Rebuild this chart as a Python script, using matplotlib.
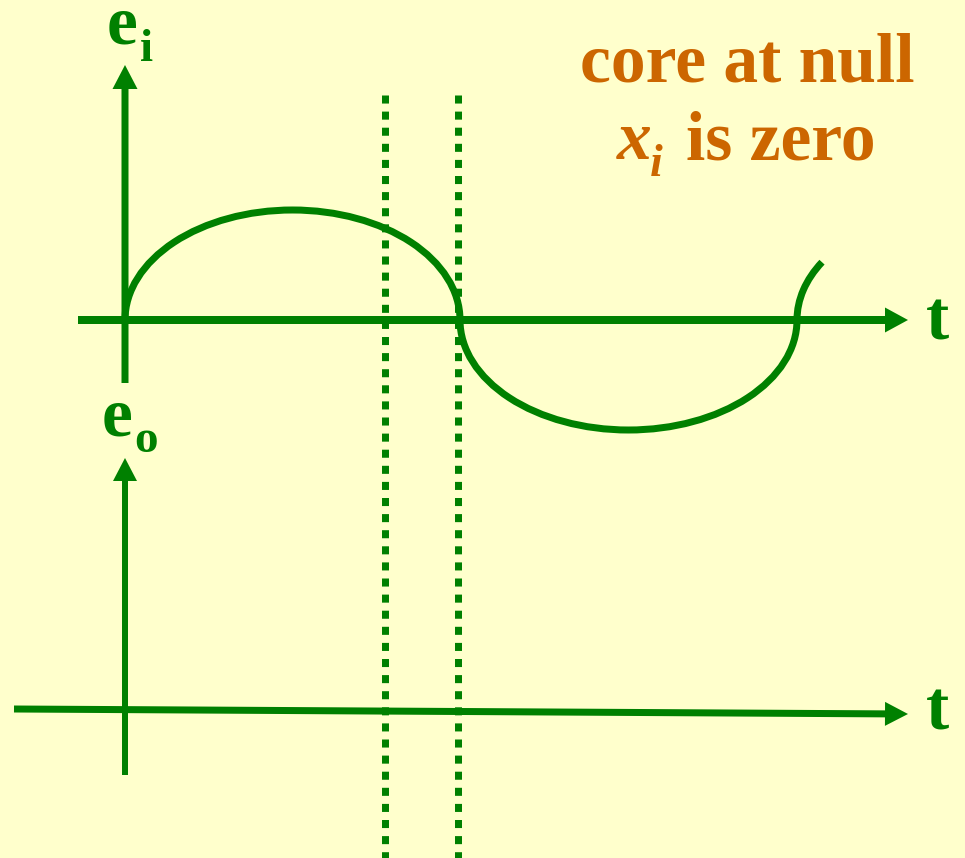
import numpy as np
import matplotlib.pyplot as plt
from matplotlib.patches import Arc

# canvas size in pixels, everything below is in pixel units (y grows downward)
W, H = 965, 858

# input signal e_i : zero crossings and amplitude of the half waves
crossings = [125, 460, 797]
amplitude = 110
end_x = 822                 # where the last partial wave stops
ei_axis_y = 320

# output e_o axis (slightly tilted in the original)
eo_axis_start = (14, 709)
eo_axis_end = (908, 714)

# dotted markers
dotted_x = [385, 458]
dotted_top = 95

green = '#008000'
orange = '#CC6600'
bg = '#FFFFCC'
serif = ['Liberation Serif', 'DejaVu Serif']

plt.rcParams['mathtext.fontset'] = 'custom'
plt.rcParams['mathtext.bf'] = 'Liberation Serif:bold'
plt.rcParams['mathtext.rm'] = 'Liberation Serif'

fig = plt.figure(figsize=(W / 100, H / 100), dpi=100, facecolor=bg)
ax = fig.add_axes([0, 0, 1, 1])
ax.set_xlim(0, W)
ax.set_ylim(H, 0)
ax.set_facecolor(bg)
ax.axis('off')

lw = 7 * 72 / 100  # 7 px

# e_i axes
ax.arrow(78, ei_axis_y, 830, 0, width=8, head_width=25, head_length=23,
         length_includes_head=True, color=green, lw=0)
ax.arrow(125, 383, 0, 65 - 383, width=7, head_width=25, head_length=24,
         length_includes_head=True, color=green, lw=0)

# e_i curve: half waves drawn as elliptical arcs
for i in range(len(crossings) - 1):
    x0, x1 = crossings[i], crossings[i + 1]
    cx = (x0 + x1) / 2
    w = x1 - x0
    if i % 2 == 0:
        t1, t2 = 180, 360
    else:
        t1, t2 = 0, 180
    ax.add_patch(Arc((cx, ei_axis_y), w, 2 * amplitude, theta1=t1, theta2=t2,
                     color=green, lw=lw))
# last partial half wave (going up from the last crossing)
half = (crossings[1] - crossings[0]) / 2
cx = crossings[-1] + half
u = (cx - end_x) / half
v = np.sqrt(1 - u ** 2)
ang = 180 + np.degrees(np.arctan2(v * amplitude, u * half))
ax.add_patch(Arc((cx, ei_axis_y), 2 * half, 2 * amplitude, theta1=180, theta2=ang,
                 color=green, lw=lw))

# e_o axes
ax.arrow(eo_axis_start[0], eo_axis_start[1],
         eo_axis_end[0] - eo_axis_start[0], eo_axis_end[1] - eo_axis_start[1],
         width=7, head_width=24, head_length=23, length_includes_head=True,
         color=green, lw=0)
ax.arrow(125, 775, 0, 458 - 775, width=6, head_width=24, head_length=23,
         length_includes_head=True, color=green, lw=0)

# dotted lines
for x in dotted_x:
    ax.plot([x, x], [dotted_top, H], color=green, lw=lw,
            linestyle=(0, (1.15, 1.15)), dash_capstyle='butt')

# labels (mathtext keeps the box tight around the glyph)
ax.text(106, 43, r'$\mathbf{e}$', color=green, fontsize=50,
        va='baseline', ha='left')
ax.text(140, 61, 'i', color=green, fontsize=34, fontweight='bold',
        family=serif, va='baseline', ha='left')
ax.text(101, 435, r'$\mathbf{e}$', color=green, fontsize=50,
        va='baseline', ha='left')
ax.text(134, 452, 'o', color=green, fontsize=34, fontweight='bold',
        family=serif, va='baseline', ha='left')
ax.text(926, 339, 't', color=green, fontsize=50, fontweight='bold',
        family=serif, va='baseline', ha='left')
ax.text(926, 730, 't', color=green, fontsize=50, fontweight='bold',
        family=serif, va='baseline', ha='left')

ax.text(747, 82, 'core at null', color=orange, fontsize=50, fontweight='bold',
        family=serif, va='baseline', ha='center')
ax.text(617, 159, 'x', color=orange, fontsize=50, fontweight='bold',
        style='italic', family=serif, va='baseline', ha='left')
ax.text(650, 176, 'i', color=orange, fontsize=33, fontweight='bold',
        style='italic', family=serif, va='baseline', ha='left')
ax.text(686, 159, 'is zero', color=orange, fontsize=50, fontweight='bold',
        family=serif, va='baseline', ha='left')

fig.savefig('out.png', dpi=100, facecolor=bg)
